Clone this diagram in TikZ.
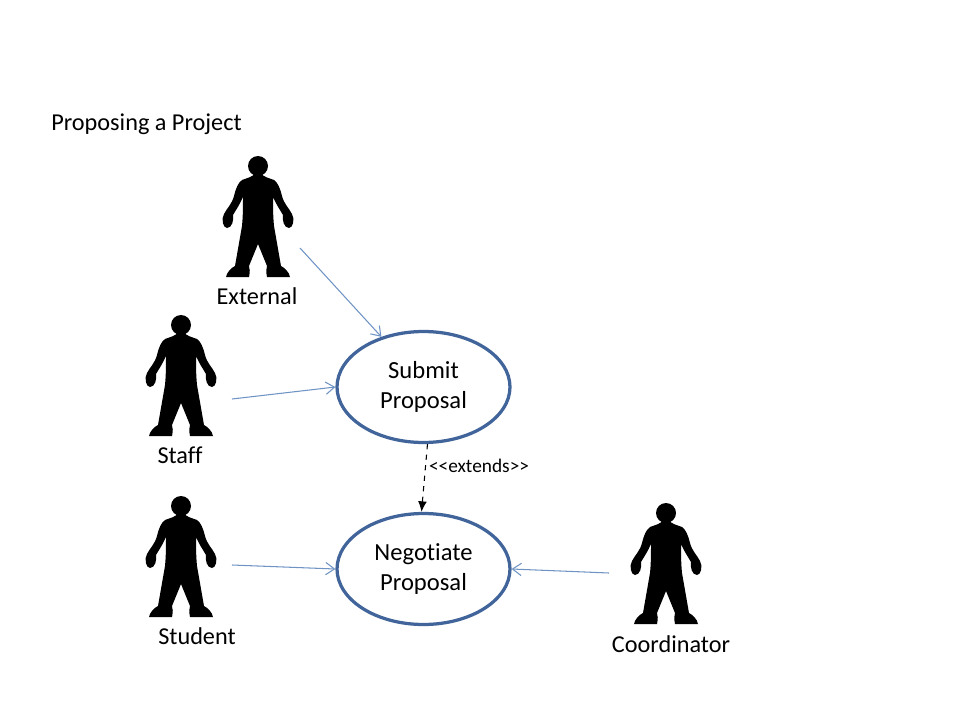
\documentclass[tikz,border=0pt]{standalone}
\usepackage{fontspec}
\setmainfont{Carlito}[Ligatures=NoCommon]
\usetikzlibrary{positioning,arrows.meta,shapes.geometric}
\definecolor{usecaseblue}{HTML}{41659A}
\definecolor{linkblue}{HTML}{6F94C4}
\tikzset{
  usecase/.style={ellipse, draw=usecaseblue, line width=0.065cm, minimum width=3.46cm, minimum height=2.22cm, inner sep=0pt, align=center, font=\fontsize{14}{16.6}\selectfont},
  actorlabel/.style={font=\fontsize{13.8}{16}\selectfont, inner sep=0pt},
  assoc/.style={linkblue, line width=0.6pt, -{Straight Barb[length=5pt,width=7pt]}},
  person/.pic={
    \fill (0,0) circle (10);
    \fill (-3,7) -- (3,7) .. controls (5,11) and (11,12) .. (16,14)
      .. controls (20,17) and (22,22) .. (24,30)
      .. controls (26,38) and (31,42) .. (34,48)
      .. controls (37,53) and (35,62) .. (31,62)
      .. controls (26,62) and (24,54) .. (25,49)
      .. controls (22,44) and (18,38) .. (15,31)
      .. controls (15,40) and (15,50) .. (16,60)
      -- (23,100)
      .. controls (27,102) and (31,106) .. (32,111)
      -- (9,111) .. controls (8,106) and (8,103) .. (9,100)
      -- (0,78) -- (-9,100)
      .. controls (-8,103) and (-8,106) .. (-9,111) -- (-32,111)
      .. controls (-31,106) and (-27,102) .. (-23,100)
      -- (-16,60)
      .. controls (-15,50) and (-15,40) .. (-15,31)
      .. controls (-18,38) and (-22,44) .. (-25,49)
      .. controls (-24,54) and (-26,62) .. (-31,62)
      .. controls (-35,62) and (-37,53) .. (-34,48)
      .. controls (-31,42) and (-26,38) .. (-24,30)
      .. controls (-22,22) and (-20,17) .. (-16,14)
      .. controls (-11,12) and (-5,11) .. (-3,7) -- cycle;
  }
}
\begin{document}
\begin{tikzpicture}[x=0.02cm, y=-0.02cm]
  \useasboundingbox (0,0) rectangle (960,720);

  \node[actorlabel, anchor=west] (title) at (51,124) {Proposing a Project};

  % actors
  \pic at (258,166) {person};
  \pic at (181,325) {person};
  \pic at (181,506) {person};
  \pic at (666,513) {person};
  \node[actorlabel] (external) at (257,296) {External};
  \node[actorlabel] (staff) at (180,455) {Staff};
  \node[actorlabel] (student) at (197,636) {Student};
  \node[actorlabel] (coordinator) at (671,644) {Coordinator};

  % use cases
  \node[usecase] (submit) at (423.5,387) {Submit\\Proposal};
  \node[usecase] (negotiate) at (423.5,569) {Negotiate\\Proposal};
  \node[font=\fontsize{11}{13}\selectfont, inner sep=0pt] (extends) at (479,466) {<{}<extends>{}>};

  % links
  \coordinate (externalend) at (300,248);
  \coordinate (staffend) at (232,399);
  \coordinate (studentend) at (232,565);
  \coordinate (coordinatorend) at (609,573);
  \draw[assoc] (externalend) -- (submit.130);
  \draw[assoc] (staffend) -- (submit.west);
  \draw[assoc] (studentend) -- (negotiate.west);
  \draw[assoc] (coordinatorend) -- (negotiate.east);
  \draw[dashed, line width=0.6pt, -{Latex[length=6pt,width=5pt]}] (submit.-86) -- (negotiate.92);
\end{tikzpicture}
\end{document}
